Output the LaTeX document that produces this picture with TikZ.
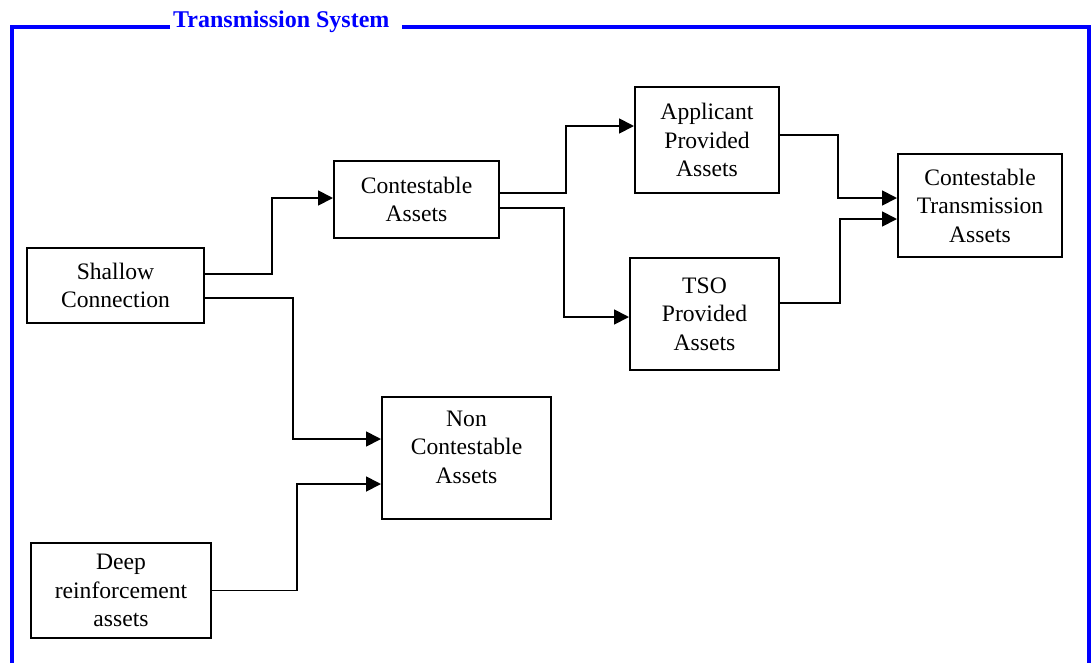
\documentclass[tikz,border=0pt]{standalone}
\usepackage{fontspec}
\setmainfont{Liberation Serif}
\usetikzlibrary{arrows.meta}
\definecolor{frameblue}{RGB}{0,0,255}
\tikzset{
  box/.style={draw=black, line width=2pt, rectangle, inner sep=0pt, align=center,
              font=\fontsize{23.6}{28.5}\selectfont},
  conn/.style={draw=black, line width=1.8pt, -{Triangle[length=15pt,width=15pt]}},
  frame/.style={draw=frameblue, line width=4pt},
}
\begin{document}
\begin{tikzpicture}[x=1pt,y=-1pt]
\useasboundingbox (0,0) rectangle (1092,662);
% frame
\node[anchor=base west, inner sep=0pt, text=frameblue, font=\fontsize{24}{28}\selectfont\bfseries] (title) at (173,27) {Transmission System};
\draw[frame] (170,26.5) -- (12,26.5) -- (12,680);
\draw[frame] (402,26.5) -- (1089,26.5) -- (1089,680);
% boxes
\node[box, minimum width=177pt, minimum height=75pt] (shallow) at (115.5,285.5) {Shallow\\Connection};
\node[box, minimum width=165pt, minimum height=77pt] (cont) at (416.5,199.5) {Contestable\\Assets};
\node[box, minimum width=144pt, minimum height=106pt] (appl) at (707,140) {Applicant\\Provided\\Assets};
\node[box, minimum width=149pt, minimum height=112pt] (tso) at (704.5,314) {TSO\\Provided\\Assets};
\node[box, minimum width=164pt, minimum height=103pt] (cta) at (980,205.5) {Contestable\\Transmission\\Assets};
\node[box, minimum width=169pt, minimum height=122pt] (nonc) at (466.5,458) {Non\\Contestable\\Assets\rule[-22pt]{0pt}{0pt}};
\node[box, minimum width=180pt, minimum height=95pt] (deep) at (121,590.5) {Deep\\reinforcement\\assets};
% elbows
\coordinate (e1) at (272,230);
\coordinate (e2) at (293,370);
\coordinate (e3) at (297,540);
\coordinate (e4) at (566,160);
\coordinate (e5) at (564,260);
\coordinate (e6) at (838,170);
\coordinate (e7) at (840,260);
% connectors
\draw[conn] ([yshift=11.5pt]shallow.east) -| (e1) |- ([yshift=1.5pt]cont.west);
\draw[conn] ([yshift=-12.5pt]shallow.east) -| (e2) |- ([yshift=19pt]nonc.west);
\draw[conn] (deep.east) -| (e3) |- ([yshift=-26pt]nonc.west);
\draw[conn] ([yshift=6.5pt]cont.east) -| (e4) |- ([yshift=14pt]appl.west);
\draw[conn] ([yshift=-8.5pt]cont.east) -| (e5) |- ([yshift=-3pt]tso.west);
\draw[conn] ([yshift=5pt]appl.east) -| (e6) |- ([yshift=7.5pt]cta.west);
\draw[conn] ([yshift=11pt]tso.east) -| (e7) |- ([yshift=-13.5pt]cta.west);
\end{tikzpicture}
\end{document}
